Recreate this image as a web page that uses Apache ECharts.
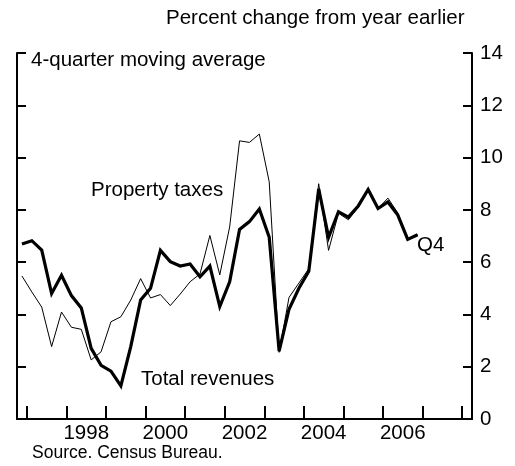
<!DOCTYPE html>
<html>
<head>
<meta charset="utf-8">
<script src="https://cdn.jsdelivr.net/npm/echarts@6/dist/echarts.min.js"></script>
<style>
  html, body { margin: 0; padding: 0; background: #fff; }
  #chart { width: 515px; height: 466px; }
</style>
</head>
<body>
<div id="chart"></div>
<script>
// quarterly observations, 4-quarter moving average
var quarters = [
  '1996Q4',
  '1997Q1', '1997Q2', '1997Q3', '1997Q4',
  '1998Q1', '1998Q2', '1998Q3', '1998Q4',
  '1999Q1', '1999Q2', '1999Q3', '1999Q4',
  '2000Q1', '2000Q2', '2000Q3', '2000Q4',
  '2001Q1', '2001Q2', '2001Q3', '2001Q4',
  '2002Q1', '2002Q2', '2002Q3', '2002Q4',
  '2003Q1', '2003Q2', '2003Q3', '2003Q4',
  '2004Q1', '2004Q2', '2004Q3', '2004Q4',
  '2005Q1', '2005Q2', '2005Q3', '2005Q4',
  '2006Q1', '2006Q2', '2006Q3', '2006Q4'
];
var totalRevenues = [
  6.69,
  6.82, 6.46, 4.80, 5.50,
  4.72, 4.25, 2.70, 2.05,
  1.83, 1.27, 2.77, 4.55,
  5.00, 6.45, 6.02, 5.85,
  5.93, 5.44, 5.85, 4.30,
  5.25, 7.25, 7.55, 8.03,
  6.95, 2.60, 4.20, 5.00,
  5.65, 8.80, 6.95, 7.93,
  7.72, 8.15, 8.78, 8.05,
  8.30, 7.80, 6.87, 7.05
];
var propertyTaxes = [
  5.47,
  4.86, 4.28, 2.77, 4.09,
  3.51, 3.43, 2.26, 2.57,
  3.72, 3.91, 4.55, 5.37,
  4.63, 4.76, 4.34, 4.78,
  5.25, 5.55, 7.02, 5.51,
  7.35, 10.64, 10.58, 10.90,
  9.07, 2.55, 4.65, 5.20,
  5.75, 9.00, 6.45, 7.87,
  7.62, 8.10, 8.80, 8.05,
  8.45, 7.88, 6.87, 7.05
];
var yearTicks = [1997, 1998, 1999, 2000, 2001, 2002, 2003, 2004, 2005, 2006, 2007, 2008];
var yearLabels = [1998, 2000, 2002, 2004, 2006];

// quarter -> mid-quarter position on the time axis
function quarterPos(q) {
  var y = parseInt(q.slice(0, 4), 10);
  var n = parseInt(q.slice(5), 10);
  return y + (n - 0.5) / 4;
}
function pairs(values) {
  return values.map(function (v, i) { return [quarterPos(quarters[i]), v]; });
}

var font = 'Liberation Sans, Arial, Helvetica, sans-serif';
var black = '#000';

var myChart = echarts.init(document.getElementById('chart'), null, { renderer: 'canvas' });
var option = {
  animation: false,
  backgroundColor: '#fff',
  grid: { left: 17, right: 43, top: 53, bottom: 47 },
  xAxis: {
    type: 'value',
    min: 1996.75,
    max: 2008.25,
    axisLine: { show: true, lineStyle: { color: black, width: 2 } },
    axisTick: {
      show: true, inside: true, length: 13,
      customValues: yearTicks,
      lineStyle: { color: black, width: 2 }
    },
    axisLabel: {
      show: true,
      customValues: yearLabels.map(function (y) { return y + 0.5; }),
      formatter: function (v) { return String(Math.floor(v)); },
      color: black, fontSize: 20.5, fontFamily: font, margin: 4
    },
    splitLine: { show: false }
  },
  yAxis: [{
    type: 'value',
    position: 'left',
    min: 0, max: 14, interval: 2,
    axisLine: { show: true, lineStyle: { color: black, width: 2 } },
    axisTick: { show: true, inside: true, length: 9, lineStyle: { color: black, width: 2 } },
    axisLabel: { show: false },
    splitLine: { show: false }
  }, {
    type: 'value',
    position: 'right',
    min: 0, max: 14, interval: 2,
    axisLine: { show: true, lineStyle: { color: black, width: 2 } },
    axisTick: { show: true, inside: true, length: 9, lineStyle: { color: black, width: 2 } },
    axisLabel: { show: true, color: black, fontSize: 20.5, fontFamily: font, margin: 8 },
    splitLine: { show: false }
  }],
  series: [{
    name: 'Property taxes',
    type: 'line',
    yAxisIndex: 0,
    symbol: 'none',
    data: pairs(propertyTaxes),
    lineStyle: { color: black, width: 1, join: 'miter' }
  }, {
    name: 'Total revenues',
    type: 'line',
    yAxisIndex: 0,
    symbol: 'none',
    data: pairs(totalRevenues),
    lineStyle: { color: black, width: 3.2, join: 'miter', miterLimit: 6 }
  }],
  graphic: [
    { type: 'text', left: 166, top: 8, style: { text: 'Percent change from year earlier', font: '20.5px ' + font, fill: black } },
    { type: 'text', left: 31, top: 50, style: { text: '4-quarter moving average', font: '20.5px ' + font, fill: black } },
    { type: 'text', left: 91, top: 180, style: { text: 'Property taxes', font: '20.5px ' + font, fill: black } },
    { type: 'text', left: 141, top: 369, style: { text: 'Total revenues', font: '20.5px ' + font, fill: black } },
    { type: 'text', left: 417, top: 235, style: { text: 'Q4', font: '20.5px ' + font, fill: black } },
    { type: 'text', left: 32, top: 444, style: { text: 'Source. Census Bureau.', font: '17.5px ' + font, fill: black } }
  ]
};
myChart.setOption(option);
</script>
</body>
</html>
